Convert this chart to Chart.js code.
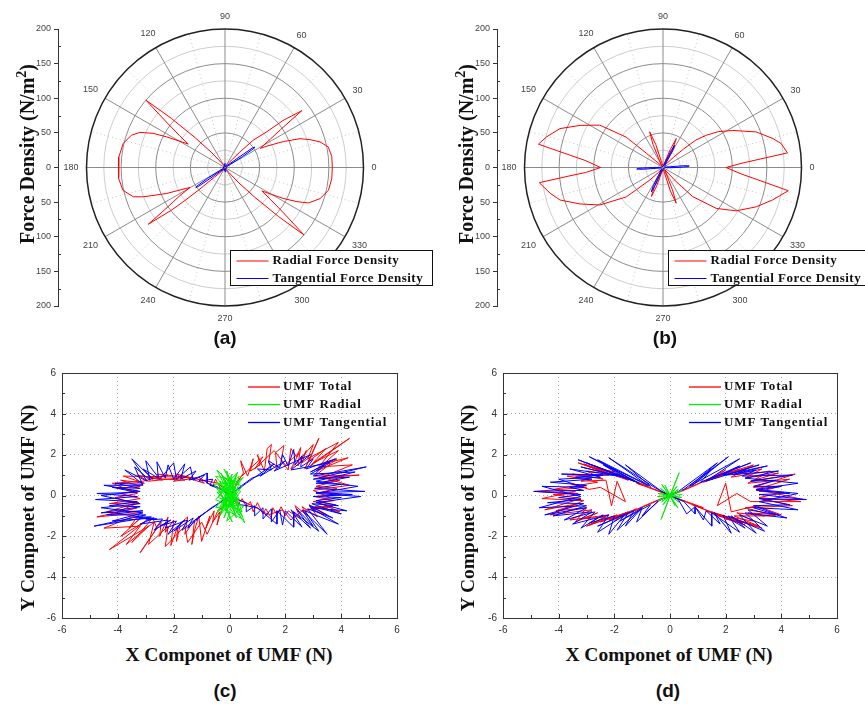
<!DOCTYPE html>
<html>
<head>
<meta charset="utf-8">
<script src="https://cdn.jsdelivr.net/npm/chart.js@4.4.0/dist/chart.umd.min.js"></script>
<style>
  body { margin: 0; background: #fff; }
  #page { position: relative; width: 865px; height: 704px; overflow: hidden; background: #fff; }
  canvas { position: absolute; }
  .title { position: absolute; font: bold 20px "Liberation Serif", serif; white-space: nowrap; color: #111;
           transform: translate(-50%, -50%); line-height: 1; }
  .title.v { transform: translate(-50%, -50%) rotate(-90deg); }
  .title sup { font-size: 0.7em; line-height: 0; }
  .cap { position: absolute; font: bold 19px "Liberation Sans", sans-serif; color: #111;
         transform: translate(-50%, -50%); line-height: 1; }
</style>
</head>
<body>
<div id="page">
  <canvas id="chartA" width="440" height="330" style="left:0;top:0"></canvas>
  <canvas id="chartB" width="425" height="330" style="left:440px;top:0"></canvas>
  <canvas id="chartC" width="432" height="280" style="left:0;top:360px"></canvas>
  <canvas id="chartD" width="425" height="280" style="left:440px;top:360px"></canvas>

  <div class="title v" style="left:27px;top:154px">Force Density (N/m<sup>2</sup>)</div>
  <div class="title v" style="left:466px;top:154px">Force Density (N/m<sup>2</sup>)</div>
  <div class="title v" style="left:28px;top:508px;font-size:19.5px">Y Componet of UMF (N)</div>
  <div class="title v" style="left:468px;top:508px;font-size:19.5px">Y Componet of UMF (N)</div>
  <div class="title" style="left:229px;top:655px;font-size:19.5px">X Componet of UMF (N)</div>
  <div class="title" style="left:669px;top:655px;font-size:19.5px">X Componet of UMF (N)</div>

  <div class="cap" style="left:225px;top:337px">(a)</div>
  <div class="cap" style="left:665px;top:337px">(b)</div>
  <div class="cap" style="left:225px;top:690px">(c)</div>
  <div class="cap" style="left:668px;top:690px">(d)</div>
</div>
<script>
// ---- polar panels: angle (deg) and force density (N/m^2) ----
const radialAngleA = [0, 5.9, 11.3, 15.1, 18.2, 21, 24, 27, 28.5, 32, 34.3, 36.5, 39, 40.6, 44, 46.2, 48, 52, 60, 75,
  90, 105, 120, 128, 132, 135, 137.5, 139.6, 142.2, 145, 147.5, 152.3, 154.6, 157.6, 161, 166.7, 174.3, 180, 185.9, 192.6,
  197.7, 199.8, 204, 209.7, 212, 214.4, 216.5, 218.5, 219.5, 220.5, 222.5, 228, 240, 255, 270, 285, 300, 308, 312, 315,
  317.5, 319.5, 322.2, 325, 327.5, 332, 334.6, 337, 341.9, 347.6, 354, 360];
const radialValueA = [155, 155, 152, 142, 129, 116, 92, 68, 58, 77, 97, 138, 108, 79, 57, 31, 16, 8, 4, 2,
  1, 2, 4, 10, 30, 60, 105, 150, 107, 80, 63, 95, 115, 133, 143, 151, 154, 154, 154, 151,
  139, 125, 92, 58, 77, 98, 138, 100, 75, 50, 20, 8, 3, 2, 1, 2, 3, 10, 30, 60,
  105, 150, 107, 80, 63, 95, 115, 131, 144.5, 153, 155, 155];
const tangentAngleA = [0, 20, 28, 32, 33.5, 34.6, 35.5, 36.5, 42, 60, 90, 120, 150, 180, 200, 208, 212, 213.5,
  214.6, 215.5, 216.5, 222, 240, 270, 300, 330, 360];
const tangentValueA = [2, 2, 4, 30, 50, 52, 48, 25, 4, 2, 6, 2, 2, 2, 2, 4, 30, 49, 51, 47, 25, 4, 2, 6, 2, 2, 2];

const radialAngleB = [0, 3, 4.7, 6.7, 11.5, 14.8, 20.9, 28, 33, 36.7, 39.9, 42, 44, 47, 52, 59, 62.5, 65.3, 68, 74,
  90, 104, 107.5, 110.5, 113.5, 120, 130, 137, 139.3, 140.5, 146.2, 153, 159.3, 165.3, 169.4, 172.4, 174.8, 180, 183.7, 185.1,
  187, 192.9, 197.5, 203.7, 210.7, 218.7, 223.5, 227, 234, 242, 245.5, 248.3, 251, 258, 270, 284, 287.5, 290.3, 293, 300,
  309, 313, 315.6, 322.5, 329.4, 337.1, 343.5, 349.5, 352.7, 355.2, 360];
const radialValueB = [91, 113, 136, 181, 174, 164, 144, 114, 95, 78, 62, 40, 22, 8, 4, 6, 30, 46, 28, 5,
  3, 6, 35, 55, 36, 6, 3, 10, 31, 69, 110, 134, 159, 174, 183, 136, 113, 90, 112, 135,
  180, 167, 156, 131, 106, 68, 26, 10, 4, 6, 30, 45, 28, 5, 3, 6, 36, 55, 35, 6,
  4, 28, 60, 97, 123, 146, 165, 184, 137, 114, 91];
const tangentAngleB = [0, 2, 3.5, 5, 8, 30, 55, 60, 62.4, 64.5, 70, 90, 150, 176, 180, 182, 183.5, 185, 190,
  230, 238, 242, 244.4, 246.5, 252, 270, 330, 356, 358, 360];
const tangentValueB = [20, 36, 38, 30, 4, 3, 6, 28, 36, 26, 4, 2, 2, 3, 15, 36, 38, 30, 4,
  3, 8, 30, 39, 26, 4, 2, 2, 3, 10, 20];

const angleTicks = [0, 30, 60, 90, 120, 150, 180, 210, 240, 270, 300, 330];
const ringValues = [25, 50, 75, 100, 125, 150, 175, 200];
const polarLabels = ['Radial Force Density', 'Tangential Force Density'];

// ---- UMF panels: [x, y] in N ----
const umfTotalC = [[0.05,0.05],[0.25,0.6],[0.5,1.1],[0.4,1.7],[0.65,0.95],[0.85,1.8],[0.75,1.2],[1.1,1.5],[1.0,2.0],
  [1.25,1.2],[1.35,2.3],[1.5,2.5],[1.4,1.6],[1.7,1.3],[1.65,2.1],[1.95,2.45],[1.85,1.7],[2.1,1.25],[2.2,2.3],[2.4,1.9],
  [2.55,2.35],[2.45,1.45],[2.75,2.2],[2.6,1.6],[2.9,1.9],[2.7,1.3],[3.2,2.8],[2.85,1.7],[3.45,2.3],[2.9,1.45],[4.3,2.8],
  [3.0,1.6],[3.9,2.2],[3.1,1.2],[4.25,1.85],[3.35,1.55],[3.85,1.8],[3.05,0.95],
  [4.65,1.0],[3.2,0.85],[4.1,0.95],[3.3,0.6],[3.95,0.75],[3.1,0.45],[3.85,0.35],[3.25,0.15],[4.0,0.05],[3.05,-0.05],
  [3.75,-0.25],[3.2,-0.35],[3.95,-0.8],[3.05,-0.55],[3.7,-0.55],[2.95,-0.7],[3.5,-0.95],[2.85,-0.45],
  [3.15,-1.05],[2.6,-0.55],[2.8,-1.0],[2.35,-0.5],[2.55,-1.15],[2.1,-0.75],[2.0,-1.0],[1.85,-0.55],[1.7,-0.95],
  [1.55,-0.6],[1.5,-1.1],[1.3,-0.65],[1.2,-0.9],[1.0,-0.35],[0.85,-0.8],[0.75,-0.3],[0.6,-0.55],[0.45,-0.15],
  [0.3,-0.45],[0.05,-0.05],
  [-0.25,-0.55],[-0.45,-1.45],[-0.35,-0.8],[-0.6,-1.3],[-0.55,-0.75],[-0.85,-1.6],[-0.7,-1.0],[-1.0,-2.25],[-1.1,-1.0],
  [-1.25,-1.7],[-1.35,-2.4],[-1.25,-1.2],[-1.6,-1.9],[-1.5,-1.05],[-1.75,-1.35],[-1.9,-2.25],[-1.85,-1.5],[-2.1,-2.45],
  [-2.0,-1.2],[-2.3,-1.8],[-2.2,-1.05],[-2.5,-2.0],[-2.45,-1.3],[-3.2,-2.8],[-2.6,-1.6],[-2.75,-1.1],[-3.5,-2.3],
  [-2.9,-1.5],[-4.3,-2.65],[-3.0,-1.25],[-3.9,-2.0],[-3.1,-1.0],[-3.6,-1.6],[-3.2,-0.85],
  [-4.75,-1.05],[-3.3,-0.6],[-4.1,-0.85],[-3.25,-0.35],[-4.3,-0.4],[-3.2,-0.15],[-3.9,0.1],[-3.3,0.25],[-4.0,0.35],
  [-3.2,0.45],[-3.9,0.75],[-3.05,0.6],[-3.8,0.95],[-1.5,0.9],[-2.9,0.7],[-3.3,1.0],[-2.4,0.75],[-2.6,1.05],[-1.2,0.85],
  [-2.0,0.7],[-1.7,0.95],[-0.9,0.6],[-1.1,0.9],[-0.6,0.45],[-0.5,0.8],[-0.3,0.3],[0.05,0.05],
  [0.4,0.9],[1.2,1.9],[0.9,1.3],[1.6,2.2],[2.0,1.5],[2.5,2.1],[2.2,1.3],[3.0,2.5],[2.8,1.8],[3.9,2.6],[3.2,1.4],
  [4.4,1.5],[3.3,0.9],[4.3,0.5],[3.0,0.25],[3.6,-0.1],[3.0,-0.3],[3.8,-0.45],[2.6,-0.75],[2.2,-1.2],[1.9,-0.7],
  [1.4,-0.95],[0.9,-0.55],[0.3,-0.2],[-0.4,-0.7],[-0.8,-1.9],[-1.0,-1.3],[-1.5,-2.3],[-1.6,-1.5],[-2.3,-2.5],
  [-2.2,-1.5],[-2.9,-2.4],[-2.7,-1.3],[-3.7,-2.4],[-3.2,-1.5],[-4.5,-1.6],[-3.4,-1.0],[-4.4,-0.8],[-3.4,-0.4],
  [-4.1,-0.1],[-3.3,0.1],[-4.2,0.6],[-3.1,0.7],[-2.2,1.0],[-2.9,0.85],[-1.6,0.75],[-1.9,1.05],[-1.0,0.75],[-0.4,0.6],[0,0]];
const umfRadialC = [[0,0],[-0.3,1.1],[0.15,-0.4],[-0.45,1.25],[0.25,0.3],[-0.2,-1.1],[0.35,0.95],[-0.5,-0.2],[0.45,-0.8],
  [-0.1,1.2],[0.1,-0.15],[-0.45,-0.85],[0.3,1.15],[-0.3,0.25],[0.55,-1.35],[0.0,0.6],[-0.55,0.55],[0.25,-1.1],[-0.2,0.9],
  [0.45,0.45],[-0.35,-1.0],[0.1,1.05],[-0.4,-0.1],[0.5,-0.55],[-0.1,-1.25],[0.35,0.65],[-0.5,0.95],[0.2,-0.3],[-0.25,0.45],
  [0.45,-1.15],[-0.3,-0.55],[0.15,0.35],[-0.45,0.15],[0.3,-0.7],[0.05,0.85],[-0.15,-0.75],[0.4,0.2],[-0.35,0.7],[0.2,-0.9],
  [-0.05,0.3],[0.5,0.9],[-0.25,-0.35],[0.1,-1.3],[-0.4,0.4],[0.35,-0.2],[-0.2,1.3],[0.15,0.55],[-0.5,-0.6],[0.4,-0.45],
  [-0.05,-0.5],[0.25,1.0],[-0.3,-0.85],[0.05,0.15],[-0.15,0.75],[0.45,-1.0],[-0.45,0.65],[0.2,0.0],[0,0]];
const umfTangentialC = [[0,0],[0.4,0.45],[0.8,0.85],[1.2,1.05],[1.0,1.3],[1.5,1.25],[1.4,1.7],[1.8,1.35],[1.9,2.0],
  [2.1,1.45],[2.3,2.25],[2.35,1.5],[2.6,1.95],[2.55,1.4],[3.0,1.8],[2.75,1.3],[3.8,1.8],[2.9,1.15],[3.4,1.5],[3.0,0.95],
  [4.9,1.4],[3.0,0.8],[4.3,0.9],[3.1,0.6],[4.0,0.55],[3.05,0.35],[4.85,0.2],[3.1,0.15],[4.4,0.05],[3.0,-0.05],
  [4.0,-0.1],[3.1,-0.25],[3.9,-0.5],[2.95,-0.4],[4.0,-0.9],[2.85,-0.5],[3.7,-1.1],[2.8,-0.65],
  [3.5,-1.9],[2.6,-0.7],[3.0,-1.5],[2.4,-0.65],[2.9,-1.6],[2.2,-0.7],[2.6,-1.55],[2.0,-0.75],[1.9,-1.45],[1.8,-0.7],
  [1.5,-1.3],[1.5,-0.65],[1.2,-1.15],[1.2,-0.6],[0.9,-1.0],[0.9,-0.5],[0.6,-0.8],[0.6,-0.35],[0.3,-0.2],[0,0],
  [-0.3,-0.3],[-0.7,-0.65],[-1.2,-1.2],[-0.9,-0.85],[-1.5,-1.6],[-1.3,-1.1],[-2.0,-1.75],[-1.6,-1.2],[-2.2,-1.9],
  [-1.9,-1.25],[-2.5,-1.5],[-2.1,-1.2],[-2.7,-1.7],[-2.4,-1.15],[-3.0,-1.2],[-2.6,-1.15],[-3.4,-1.05],[-2.8,-1.05],
  [-4.85,-1.5],[-3.0,-0.95],[-4.4,-0.95],[-3.1,-0.75],[-4.6,-0.85],[-3.2,-0.55],[-4.3,-0.5],[-3.3,-0.3],[-4.8,-0.2],
  [-3.3,-0.05],[-4.75,0.1],[-3.3,0.15],[-4.2,0.4],[-3.2,0.35],[-4.1,0.6],[-3.1,0.55],[-3.75,1.25],
  [-2.95,0.7],[-3.5,1.8],[-2.75,0.8],[-3.1,1.3],[-2.55,0.85],[-2.6,1.65],[-2.3,0.85],[-2.2,1.5],[-2.0,0.8],[-1.6,1.55],
  [-1.75,0.8],[-1.2,1.2],[-1.45,0.75],[-0.9,1.0],[-1.1,0.7],[-0.6,0.8],[-0.7,0.5],[-0.3,0.3],[0,0],
  [0.6,0.6],[1.6,1.55],[1.1,0.95],[2.0,1.7],[1.6,1.2],[2.9,2.0],[2.2,1.25],[3.6,1.6],[2.9,1.05],[4.5,1.15],[3.1,0.7],
  [4.6,0.45],[3.1,0.1],[4.7,-0.05],[3.1,-0.35],[4.2,-0.75],[2.9,-0.6],[3.9,-1.4],[2.7,-0.75],[3.2,-1.75],[2.3,-0.8],
  [2.3,-1.55],[1.7,-0.75],[1.7,-1.4],[1.0,-0.6],[0.4,-0.45],[0,0],[-0.5,-0.5],[-1.1,-1.05],[-1.7,-1.7],[-1.5,-1.2],
  [-2.3,-1.6],[-2.2,-1.2],[-3.2,-1.4],[-2.7,-1.1],[-4.2,-1.25],[-3.1,-0.85],[-4.6,-0.6],[-3.2,-0.4],[-4.6,0.0],
  [-3.2,0.2],[-4.5,0.5],[-3.1,0.5],[-3.4,1.4],[-2.85,0.75],[-3.0,1.7],[-2.5,0.8],[-2.0,1.6],[-1.9,0.8],[-1.4,1.4],
  [-1.3,0.75],[-0.8,1.1],[-0.8,0.6],[-0.4,0.4],[0,0]];

const umfTotalD = [[0,0],[-0.6,0.3],[-1.2,0.6],[-0.8,0.45],[-2.2,1.2],[-1.5,0.75],[-3.3,1.6],[-1.9,0.95],[-2.9,1.4],
  [-2.0,1.15],[-2.6,1.3],[-1.6,0.95],[-3.0,1.2],[-2.4,0.8],[-3.5,1.05],[-2.8,0.9],[-3.2,0.7],[-2.3,0.75],[-2.1,-0.5],
  [-1.9,0.7],[-1.6,-0.3],[-2.5,0.4],[-2.9,0.3],[-3.6,0.6],[-3.0,0.4],[-4.85,0.2],[-3.3,0.1],[-4.2,0.05],[-3.2,-0.15],
  [-4.5,-0.7],[-3.3,-0.4],[-4.1,-0.75],[-3.0,-0.6],[-3.4,-1.3],[-2.6,-0.85],[-3.2,-1.15],[-2.3,-1.05],[-2.9,-1.45],
  [-1.9,-0.95],[-2.5,-1.3],[-1.5,-0.8],[-2.2,-1.2],[-1.2,-0.65],[-1.8,-1.05],[-0.7,-0.4],[0,0],
  [0.6,-0.3],[1.2,-0.6],[0.8,-0.45],[2.2,-1.2],[1.5,-0.8],[3.3,-1.6],[1.9,-1.0],[2.9,-1.4],[2.0,-1.15],[2.6,-1.35],
  [1.6,-0.95],[3.0,-1.25],[2.4,-0.85],[3.4,-1.0],[2.8,-0.85],[4.0,-0.95],[3.1,-0.5],[2.2,-0.8],[2.0,0.6],[1.7,-0.5],
  [2.4,0.1],[2.9,-0.3],[4.7,-0.3],[3.2,-0.1],[4.1,0.15],[3.2,0.2],[4.0,0.45],[3.0,0.4],[4.5,1.05],[2.9,0.7],[3.9,1.1],
  [2.7,0.85],[3.3,1.3],[2.3,1.0],[2.9,1.4],[1.9,1.0],[2.5,1.3],[1.5,0.8],[2.2,1.2],[1.2,0.65],[1.8,1.05],[0.7,0.4],[0,0],
  [-0.9,0.5],[-2.7,1.45],[-1.3,0.75],[-3.1,1.55],[-2.2,1.0],[-3.7,0.95],[-2.6,0.65],[-4.2,0.3],[-3.4,0.2],[-4.6,-0.15],
  [-3.1,-0.25],[-4.3,-0.95],[-2.8,-0.7],[-3.6,-1.2],[-2.2,-0.95],[-3.0,-1.5],[-1.7,-0.9],[-2.0,-1.25],[-1.0,-0.55],
  [-0.4,-0.2],[0,0],[0.9,-0.5],[2.7,-1.45],[1.3,-0.75],[3.2,-1.5],[2.3,-1.0],[3.8,-1.0],[2.7,-0.6],[4.4,-0.5],
  [3.4,-0.2],[4.8,-0.2],[3.1,0.3],[4.3,0.8],[2.8,0.6],[3.6,1.2],[2.2,0.9],[3.0,1.5],[1.7,0.95],[2.0,1.25],[1.0,0.55],
  [0.4,0.2],[0,0]];
const umfRadialD = [[0,0],[0.33,1.12],[-0.32,-1.17],[0,0],[-0.35,0.35],[0.35,-0.35],[0,0],[-0.42,-0.25],[0.42,0.25],[0,0],
  [-0.18,0.5],[0.18,-0.5],[0,0],[-0.42,0.1],[0.42,-0.1],[0,0],[-0.25,-0.45],[0.25,0.45],[0,0],[0.3,0.3],[-0.3,-0.3],[0,0],
  [-0.3,0.55],[0.28,-0.6],[0,0],[-0.45,-0.05],[0.45,0.05]];
const umfTangentialD = [[0,0],[-0.5,0.35],[-2.2,1.85],[-0.8,0.5],[-2.9,1.9],[-1.1,0.6],[-3.3,1.75],[-1.6,0.85],[-2.4,1.5],
  [-1.4,0.8],[-3.2,1.4],[-2.0,1.0],[-3.9,1.05],[-2.4,1.0],[-3.4,0.9],[-2.8,0.8],[-4.3,0.65],[-3.0,0.5],[-3.6,0.4],
  [-3.1,0.25],[-4.9,0.2],[-3.2,0.05],[-4.0,-0.1],[-3.2,-0.2],[-4.4,-0.35],[-3.1,-0.4],[-4.5,-0.95],[-3.0,-0.6],
  [-3.8,-1.2],[-2.7,-0.8],[-3.2,-1.6],[-2.4,-0.95],[-2.9,-1.35],[-2.0,-1.0],[-2.2,-1.9],[-1.6,-0.9],[-2.6,-1.5],
  [-1.3,-0.75],[-1.6,-1.5],[-1.0,-0.6],[-1.8,-1.25],[-0.7,-0.45],[-1.0,-1.0],[-0.4,-0.25],[0,0],
  [0.5,0.3],[2.1,1.9],[0.8,0.5],[1.5,1.3],[1.1,0.65],[2.9,1.6],[1.5,0.85],[2.5,1.45],[1.9,1.0],[3.5,1.45],[2.3,1.05],
  [3.1,1.25],[2.6,0.95],[4.4,1.0],[2.9,0.7],[3.8,0.75],[3.0,0.45],[4.0,0.45],[3.1,0.25],[4.3,0.1],[3.2,0.05],[4.9,-0.2],
  [3.2,-0.15],[4.3,-0.45],[3.0,-0.5],[3.9,-0.95],[2.8,-0.7],[3.5,-1.5],[2.5,-0.95],[3.1,-1.85],[2.2,-1.0],[2.7,-1.6],
  [1.9,-0.95],[2.2,-1.85],[1.6,-0.85],[1.8,-1.4],[1.3,-0.75],[1.2,-1.2],[0.9,-0.55],[0.9,-0.9],[0.5,-0.3],[0,0],
  [-0.3,0.2],[-1.6,1.5],[-0.7,0.45],[-2.6,1.75],[-1.3,0.7],[-3.0,1.6],[-1.8,0.95],[-3.6,1.3],[-2.5,0.9],[-4.0,0.8],
  [-3.1,0.4],[-4.6,0.45],[-3.2,-0.05],[-4.7,-0.6],[-3.0,-0.5],[-4.2,-1.0],[-2.8,-0.8],[-3.5,-1.4],[-2.2,-0.95],
  [-2.6,-1.8],[-1.5,-0.85],[-1.9,-1.7],[-1.0,-0.6],[-1.2,-1.3],[-0.4,-0.25],[0,0],[0.3,0.2],[1.7,1.6],[0.7,0.45],
  [2.5,1.8],[1.3,0.7],[3.2,1.5],[2.0,1.0],[3.9,1.2],[2.7,0.85],[4.6,0.6],[3.1,0.3],[4.6,0.1],[3.2,-0.3],[4.6,-0.7],
  [3.0,-0.6],[4.2,-1.1],[2.7,-0.85],[3.4,-1.75],[2.1,-1.0],[2.5,-1.8],[1.5,-0.85],[1.5,-1.5],[0.9,-0.55],[0.6,-0.9],
  [0.3,-0.2],[0,0]];
const umfLabels = ['UMF Total', 'UMF Radial', 'UMF Tangential'];

const RED = '#ff0000', GREEN = '#00ee00', BLUE = '#0000ff';

function toXY(angles, values) {
  return angles.map((a, i) => ({
    x: values[i] * Math.cos(a * Math.PI / 180),
    y: values[i] * Math.sin(a * Math.PI / 180)
  }));
}

function legendText(ctx, text, x, y, size, spacing) {
  ctx.font = 'bold ' + size + 'px "Liberation Serif", serif';
  ctx.letterSpacing = spacing + 'px';
  ctx.fillStyle = '#111';
  ctx.textAlign = 'left';
  ctx.textBaseline = 'middle';
  ctx.fillText(text, x, y);
  ctx.letterSpacing = '0px';
}

// grid of the polar plot, drawn from the x/y scales
const polarGrid = {
  id: 'polarGrid',
  beforeDatasetsDraw(chart) {
    const { ctx, scales: { x, y } } = chart;
    const cx = x.getPixelForValue(0), cy = y.getPixelForValue(0);
    const R = cy - y.getPixelForValue(200);
    ctx.save();
    // dotted minor spokes
    ctx.setLineDash([1, 3]);
    ctx.strokeStyle = '#c4c4c4';
    ctx.lineWidth = 1;
    for (let a = 15; a < 360; a += 30) {
      const t = a * Math.PI / 180;
      ctx.beginPath();
      ctx.moveTo(cx, cy);
      ctx.lineTo(cx + R * Math.cos(t), cy - R * Math.sin(t));
      ctx.stroke();
    }
    ctx.setLineDash([]);
    ringValues.forEach(v => {
      if (v === 200) return;
      ctx.beginPath();
      ctx.arc(cx, cy, R * v / 200, 0, 2 * Math.PI);
      ctx.strokeStyle = v % 50 === 0 ? '#8c8c8c' : '#cdcdcd';
      ctx.stroke();
    });
    ctx.strokeStyle = '#8a8a8a';
    angleTicks.forEach(a => {
      const t = a * Math.PI / 180;
      ctx.beginPath();
      ctx.moveTo(cx, cy);
      ctx.lineTo(cx + R * Math.cos(t), cy - R * Math.sin(t));
      ctx.stroke();
    });
    ctx.beginPath();
    ctx.arc(cx, cy, R, 0, 2 * Math.PI);
    ctx.strokeStyle = '#222';
    ctx.lineWidth = 1.5;
    ctx.stroke();
    // angle labels
    ctx.font = '9px "Liberation Sans", sans-serif';
    ctx.fillStyle = '#444';
    ctx.textAlign = 'center';
    ctx.textBaseline = 'middle';
    angleTicks.forEach(a => {
      const t = a * Math.PI / 180;
      const w = ctx.measureText(String(a)).width;
      const off = R + 8 + (w / 2) * Math.abs(Math.cos(t)) + 4.5 * Math.abs(Math.sin(t));
      ctx.fillText(String(a), cx + off * Math.cos(t), cy - off * Math.sin(t));
    });
    ctx.restore();
  },
  afterDraw(chart, args, opts) {
    const { ctx, scales: { y } } = chart;
    ctx.save();
    // minor ticks on the inside of the left axis
    ctx.strokeStyle = '#333';
    ctx.lineWidth = 1;
    y.ticks.forEach(t => {
      if (t.value % 50 === 0) return;
      const py = Math.round(y.getPixelForValue(t.value)) + 0.5;
      ctx.beginPath();
      ctx.moveTo(y.right, py);
      ctx.lineTo(y.right + 3, py);
      ctx.stroke();
    });
    // legend box
    const bx = opts.boxX + 0.5, by = 250.5;
    ctx.fillStyle = '#fff';
    ctx.fillRect(bx, by, 202, 35);
    ctx.strokeStyle = '#111';
    ctx.strokeRect(bx, by, 202, 35);
    [RED, BLUE].forEach((c, i) => {
      const ry = 261 + i * 17.5;
      ctx.strokeStyle = c;
      ctx.lineWidth = 1.2;
      ctx.beginPath();
      ctx.moveTo(bx + 6, ry);
      ctx.lineTo(bx + 38, ry);
      ctx.stroke();
      legendText(ctx, polarLabels[i], bx + 42, ry, 13, 0.5);
    });
    ctx.restore();
  }
};

function polarChart(id, axisX, cx, radial, tangent, boxX) {
  const canvas = document.getElementById(id);
  const R = 138.5;
  const xMin = (axisX - cx) * 200 / R;
  const xMax = (canvas.width - cx) * 200 / R;
  return new Chart(canvas, {
    type: 'scatter',
    data: {
      datasets: [
        { label: polarLabels[1], data: toXY(tangent[0], tangent[1]), borderColor: BLUE, borderWidth: 1,
          showLine: true, pointRadius: 0, order: 1 },
        { label: polarLabels[0], data: toXY(radial[0], radial[1]), borderColor: RED, borderWidth: 1,
          showLine: true, pointRadius: 0, order: 2 }
      ]
    },
    options: {
      responsive: false,
      animation: false,
      devicePixelRatio: 1,
      events: [],
      layout: { padding: { left: 0, right: 0, top: 29, bottom: 24 } },
      plugins: { legend: { display: false }, tooltip: { enabled: false }, polarGrid: { boxX } },
      scales: {
        x: { type: 'linear', display: false, min: xMin, max: xMax },
        y: {
          type: 'linear', min: -200, max: 200,
          afterFit: s => { s.width = axisX; },
          ticks: {
            stepSize: 25, autoSkip: false, padding: 3, color: '#444',
            font: { size: 9, family: 'Liberation Sans' },
            callback: v => (v % 50 === 0 ? String(Math.abs(v)) : '')
          },
          grid: {
            drawOnChartArea: false, tickLength: 4,
            tickColor: c => (c.tick && c.tick.value % 50 === 0 ? '#333' : 'rgba(0,0,0,0)')
          },
          border: { color: '#333', width: 1 }
        }
      }
    },
    plugins: [polarGrid]
  });
}

// frame, inward ticks and legend of the UMF plots
const umfFrame = {
  id: 'umfFrame',
  afterDatasetsDraw(chart, args, opts) {
    const { ctx, chartArea: a, scales: { x, y } } = chart;
    ctx.save();
    ctx.strokeStyle = '#333';
    ctx.lineWidth = 1;
    ctx.strokeRect(a.left + 0.5, a.top + 0.5, a.right - a.left, a.bottom - a.top);
    x.ticks.forEach(t => {
      const px = Math.round(x.getPixelForValue(t.value)) + 0.5;
      const len = t.value % 2 === 0 ? 4 : 3;
      ctx.beginPath();
      ctx.moveTo(px, a.bottom);
      ctx.lineTo(px, a.bottom - len);
      ctx.stroke();
    });
    y.ticks.forEach(t => {
      const py = Math.round(y.getPixelForValue(t.value)) + 0.5;
      const len = t.value % 2 === 0 ? 4 : 3;
      ctx.beginPath();
      ctx.moveTo(a.left, py);
      ctx.lineTo(a.left + len, py);
      ctx.stroke();
    });
    [RED, GREEN, BLUE].forEach((c, i) => {
      const ry = [27, 44.5, 62.5][i];
      ctx.strokeStyle = c;
      ctx.lineWidth = 1.3;
      ctx.beginPath();
      ctx.moveTo(opts.legendX, ry);
      ctx.lineTo(opts.legendX + 32, ry);
      ctx.stroke();
      legendText(ctx, umfLabels[i], opts.legendX + 35, ry, 13, 0.9);
    });
    ctx.restore();
  }
};

function umfChart(id, axisX, rightX, total, radial, tangential, legendX) {
  const canvas = document.getElementById(id);
  const tickFont = { size: 10, family: 'Liberation Sans' };
  const gridColor = c => (c.tick && c.tick.value % 2 === 0 && Math.abs(c.tick.value) < 6 ? '#a8a8a8' : 'rgba(0,0,0,0)');
  return new Chart(canvas, {
    type: 'scatter',
    data: {
      datasets: [
        { label: umfLabels[0], data: total.map(p => ({ x: p[0], y: p[1] })), borderColor: RED, borderWidth: 1,
          showLine: true, pointRadius: 0, order: 3 },
        { label: umfLabels[1], data: radial.map(p => ({ x: p[0], y: p[1] })), borderColor: GREEN, borderWidth: 1,
          showLine: true, pointRadius: 0, order: 1 },
        { label: umfLabels[2], data: tangential.map(p => ({ x: p[0], y: p[1] })), borderColor: BLUE, borderWidth: 1,
          showLine: true, pointRadius: 0, order: 2 }
      ]
    },
    options: {
      responsive: false,
      animation: false,
      devicePixelRatio: 1,
      events: [],
      layout: { padding: { left: 0, right: canvas.width - rightX, top: 13, bottom: 0 } },
      plugins: { legend: { display: false }, tooltip: { enabled: false }, umfFrame: { legendX } },
      scales: {
        x: {
          type: 'linear', min: -6, max: 6,
          afterFit: s => { s.height = 22; },
          ticks: { stepSize: 1, autoSkip: false, maxRotation: 0, padding: 6, color: '#333', font: tickFont,
                   callback: v => (v % 2 === 0 ? String(v) : '') },
          grid: { drawTicks: false, color: gridColor, lineWidth: 1 },
          border: { display: false, dash: [1, 3] }
        },
        y: {
          type: 'linear', min: -6, max: 6,
          afterFit: s => { s.width = axisX; },
          ticks: { stepSize: 1, autoSkip: false, padding: 6, color: '#333', font: tickFont,
                   callback: v => (v % 2 === 0 ? String(v) : '') },
          grid: { drawTicks: false, color: gridColor, lineWidth: 1 },
          border: { display: false, dash: [1, 3] }
        }
      }
    },
    plugins: [umfFrame]
  });
}

polarChart('chartA', 58, 225, [radialAngleA, radialValueA], [tangentAngleA, tangentValueA], 230);
polarChart('chartB', 57, 223, [radialAngleB, radialValueB], [tangentAngleB, tangentValueB], 228);
umfChart('chartC', 62, 397, umfTotalC, umfRadialC, umfTangentialC, 248);
umfChart('chartD', 63, 397, umfTotalD, umfRadialD, umfTangentialD, 249);
</script>
</body>
</html>
